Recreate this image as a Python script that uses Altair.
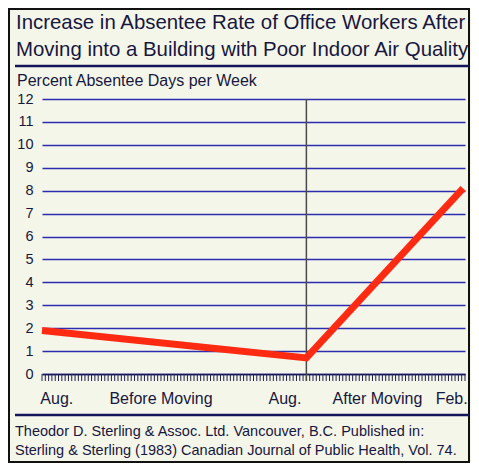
import altair as alt
import pandas as pd

# ---- data -----------------------------------------------------------------
title_lines = [
    "Increase in Absentee Rate of Office Workers After",
    "Moving into a Building with Poor Indoor Air Quality",
]
y_title = "Percent Absentee Days per Week"
caption_lines = [
    "Theodor D. Sterling & Assoc. Ltd. Vancouver, B.C. Published in:",
    "Sterling & Sterling (1983) Canadian Journal of Public Health, Vol. 74.",
]

# time axis measured in minor-tick units (Aug. -> Aug. -> Feb.)
series_x = [0, 80, 127.4]
series_y = [1.9, 0.7, 8.1]

x_labels = ["Aug.", "Before Moving", "Aug.", "After Moving", "Feb."]
x_label_pos = [-0.5, 36, 78.5, 101.5, 128.8]
x_label_align = ["left", "center", "right", "center", "right"]

y_ticks = list(range(0, 13))
minor_ticks = list(range(0, 129))
move_x = [80]

# ---- layout ---------------------------------------------------------------
W, H = 423, 275
PL, PT = 34, 91
TOTW, TOTH = 463, 455
FONT = "Liberation Sans"
TXT = "#17173f"
NAVY = "#15155a"
BG = "#f5f6ea"

line_df = pd.DataFrame({"t": series_x, "v": series_y})
lab_df = pd.DataFrame({"t": x_label_pos, "label": x_labels, "align": x_label_align})
tick_df = pd.DataFrame({"t": minor_ticks})
one = pd.DataFrame({"k": [0]})

xscale = alt.Scale(domain=[0, 128], nice=False, zero=False)
yscale = alt.Scale(domain=[0, 12], nice=False)

frame = alt.Chart(one).mark_rect(fillOpacity=0, stroke="#111111", strokeWidth=2).encode(
    x=alt.value(-PL + 1), x2=alt.value(TOTW - PL - 2), y=alt.value(-PT + 1), y2=alt.value(TOTH - PT - 1)
)

line = alt.Chart(line_df).mark_line(color="#ff2a12", strokeWidth=7, strokeJoin="miter").encode(
    x=alt.X(
        "t:Q",
        scale=xscale,
        axis=alt.Axis(
            labels=False, title=None, grid=False, ticks=False,
            domain=True, domainColor=NAVY, domainWidth=1.5,
        ),
    ),
    y=alt.Y(
        "v:Q",
        scale=yscale,
        axis=alt.Axis(
            values=y_ticks, title=None, grid=True, gridColor="#2d2db0", gridWidth=1.5,
            domain=False, ticks=False, labelPadding=9, labelFontSize=14.5,
            labelFont=FONT, labelColor=TXT,
        ),
    ),
)

ticks = alt.Chart(tick_df).mark_rule(color="#22224a", strokeWidth=1).encode(
    x=alt.X("t:Q", scale=xscale), y=alt.value(H), y2=alt.value(H + 7)
)

vrule = alt.Chart(pd.DataFrame({"t": move_x})).mark_rule(color="#4a4a4a", strokeWidth=1.5).encode(
    x=alt.X("t:Q", scale=xscale), y=alt.value(0), y2=alt.value(H + 7)
)

def xlab(al):
    return alt.Chart(lab_df).transform_filter(alt.datum.align == al).mark_text(
        align=al, baseline="middle", fontSize=16, font=FONT, color=TXT
    ).encode(x=alt.X("t:Q", scale=xscale), y=alt.value(H + 25), text="label:N")

title = alt.Chart(one).mark_text(
    text=title_lines, align="left", baseline="top", fontSize=20.4, font=FONT,
    color=TXT, lineHeight=27,
).encode(x=alt.value(-26), y=alt.value(-86))

ytitle = alt.Chart(one).mark_text(
    text=y_title, align="left", baseline="middle", fontSize=16, font=FONT, color=TXT
).encode(x=alt.value(-25), y=alt.value(-18))

caption = alt.Chart(one).mark_text(
    text=caption_lines, align="left", baseline="top", fontSize=14.5, font=FONT,
    color=TXT, lineHeight=18.5,
).encode(x=alt.value(-27), y=alt.value(H + 51))

sep_top = alt.Chart(one).mark_rule(color=NAVY, strokeWidth=2.5).encode(
    x=alt.value(-27), x2=alt.value(W + 4), y=alt.value(-33)
)
sep_bot = alt.Chart(one).mark_rule(color=NAVY, strokeWidth=2.5).encode(
    x=alt.value(-27), x2=alt.value(W + 4), y=alt.value(H + 41)
)

chart = alt.layer(
    frame, ticks, vrule, line, xlab("left"), xlab("center"), xlab("right"),
    title, ytitle, caption, sep_top, sep_bot,
).properties(
    width=W, height=H,
    autosize=alt.AutoSizeParams(type="none"),
    padding={"left": PL, "top": PT, "right": TOTW - PL - W, "bottom": TOTH - PT - H},
    background=BG,
).configure_view(stroke=None)

chart.save("out.html", embed_options={"renderer": "svg", "actions": False})
